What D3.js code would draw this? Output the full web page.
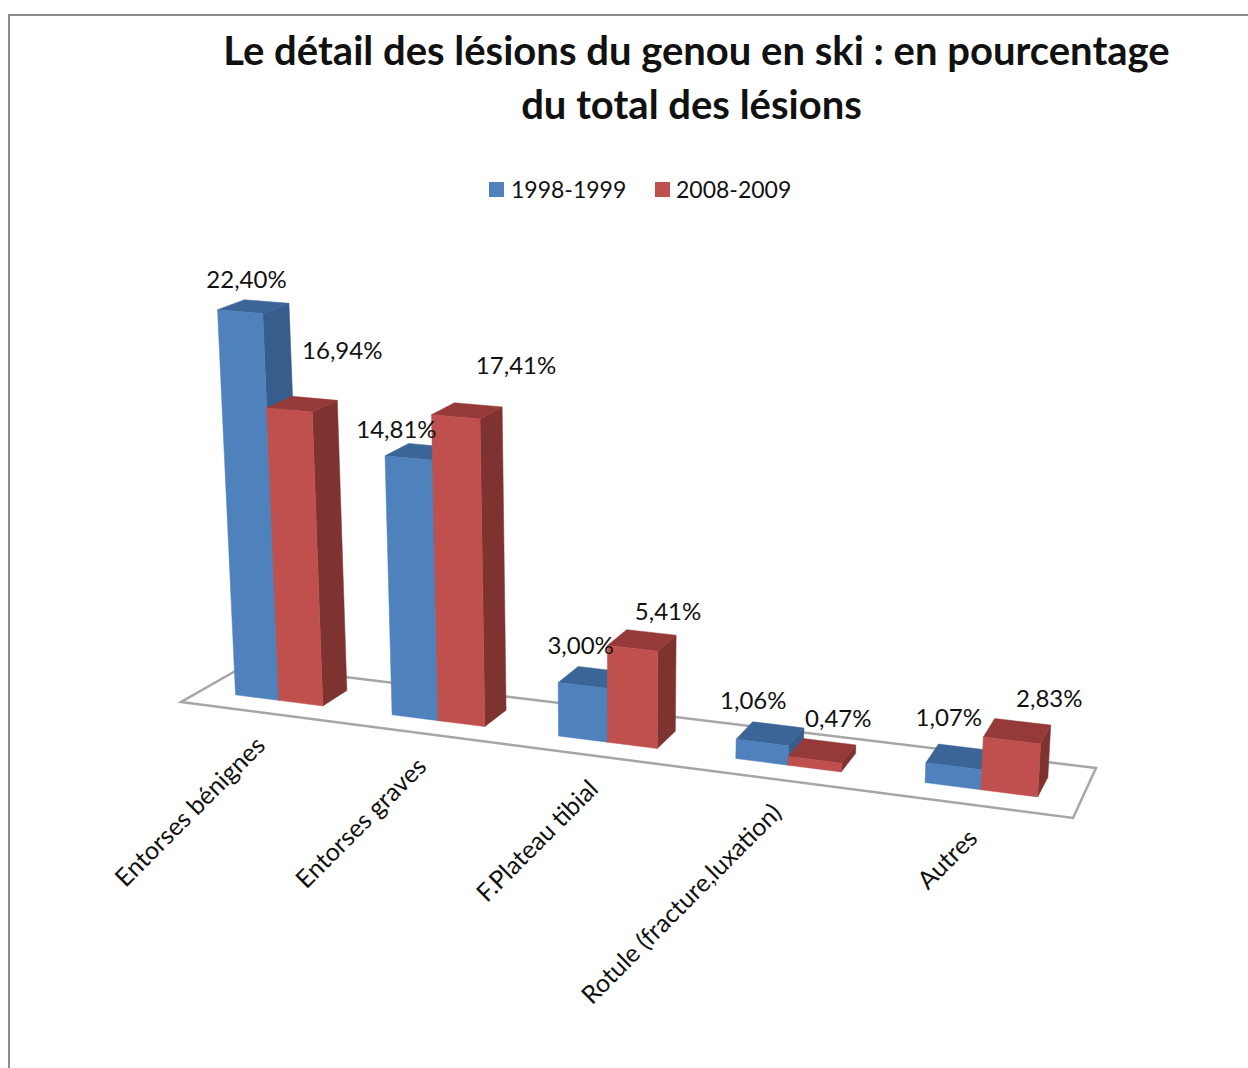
<!DOCTYPE html>
<html>
<head>
<meta charset="utf-8">
<script src="https://cdn.jsdelivr.net/npm/d3@7"></script>
<style>
    body { margin: 0; background: #fff; }
    text { font-family: Lato, "Open Sans", sans-serif; fill: #111; }
</style>
</head>
<body>
<div id="chart"></div>
<script>
// data
const categories = ["Entorses bénignes", "Entorses graves", "F.Plateau tibial", "Rotule (fracture,luxation)", "Autres"];
const seriesNames = ["1998-1999", "2008-2009"];
const values1998 = [22.40, 14.81, 3.00, 1.06, 1.07];
const values2008 = [16.94, 17.41, 5.41, 0.47, 2.83];
const titleLines = ["Le détail des lésions du genou en ski : en pourcentage", "du total des lésions"];

const width = 1248, height = 1068;

const colors = [
    {front: "#4f81bd", side: "#365d8c", top: "#3b6597"},
    {front: "#c0504d", side: "#7f3331", top: "#953a38"}
];

// label shifts from the centre of the bar top, excel places these oddly in 3d
const labelShift = [
    [[-7, -26], [-24, -22], [-12, -31], [-17, -33], [-11, -39]],
    [[40, -53], [49, -45], [26, -28], [16, -32], [32, -32]]
];

const svg = d3.select("#chart").append("svg")
    .attr("width", width)
    .attr("height", height);

// frame, runs off the right and bottom of the page
svg.append("rect")
    .attr("x", 9).attr("y", 15)
    .attr("width", 1400).attr("height", 1200)
    .attr("fill", "none")
    .attr("stroke", "#8c8c8c")
    .attr("stroke-width", 2);

// title, second line sits a bit left of the first in the original
svg.selectAll(".title").data(titleLines).enter().append("text")
    .attr("class", "title")
    .attr("x", (d, i) => i === 0 ? 696.5 : 691.5)
    .attr("y", (d, i) => 65 + i * 54)
    .attr("text-anchor", "middle")
    .attr("font-weight", 700)
    .attr("font-size", 40)
    .text(d => d);

// legend
const legend = svg.selectAll(".legend").data(seriesNames).enter().append("g")
    .attr("class", "legend")
    .attr("transform", (d, i) => "translate(" + (489 + i * 166) + ",182)");
legend.append("rect")
    .attr("width", 15).attr("height", 15)
    .attr("fill", (d, i) => colors[i].front);
legend.append("text")
    .attr("x", (d, i) => 22 - i)
    .attr("y", 16)
    .attr("font-size", 23)
    .text(d => d);

// floor projection: unit square (u along categories, v in depth) to the screen
const floorCorners = [[181, 702], [1073, 818], [1096, 768], [246, 665]];

function makeHomography(q) {
    const [[x0, y0], [x1, y1], [x2, y2], [x3, y3]] = q;
    const dx1 = x1 - x2, dy1 = y1 - y2, dx2 = x3 - x2, dy2 = y3 - y2;
    const sx = x0 - x1 + x2 - x3, sy = y0 - y1 + y2 - y3;
    const den = dx1 * dy2 - dx2 * dy1;
    const g = (sx * dy2 - dx2 * sy) / den;
    const h = (dx1 * sy - sx * dy1) / den;
    const a = x1 - x0 + g * x1, b = x3 - x0 + h * x3;
    const d = y1 - y0 + g * y1, e = y3 - y0 + h * y3;
    return (u, v) => {
        const w = g * u + h * v + 1;
        return [(a * u + b * v + x0) / w, (d * u + e * v + y0) / w];
    };
}
const floor = makeHomography(floorCorners);

// verticals converge on a point far under the chart
const vanish = [610, 8700];

// px per percent grows towards the viewer
const pxPerPct = d3.scaleLinear().domain([690, 800]).range([17.12, 18.75]);

const x0 = d3.scaleBand().domain(categories).range([0.002, 1.002]).paddingInner(0.435).paddingOuter(0.2175);
const x1 = d3.scaleBand().domain(seriesNames).range([0, x0.bandwidth()]);
const depth = d3.scaleLinear().domain([0, 1]).range([0.3, 0.7]);

function project(u, d, value) {
    const p = floor(u, depth(d));
    const lift = value * pxPerPct(p[1]);
    const slope = (p[0] - vanish[0]) / (vanish[1] - p[1]);
    return [p[0] + slope * lift, p[1] - lift];
}

// floor outline
svg.append("polygon")
    .attr("points", floorCorners.join(" "))
    .attr("fill", "#fff")
    .attr("stroke", "#a6a6a6")
    .attr("stroke-width", 2.5);

const series = [values1998, values2008];
const bars = [];
categories.forEach((c, i) => {
    seriesNames.forEach((s, j) => {
        const u0 = x0(c) + x1(s);
        bars.push({cat: i, ser: j, u0: u0, u1: u0 + x1.bandwidth(), value: series[j][i]});
    });
});

function pts(list) {
    return list.map(d => d.join(",")).join(" ");
}

const barG = svg.selectAll(".bar").data(bars).enter().append("g").attr("class", "bar");

// side
barG.append("polygon")
    .attr("fill", d => colors[d.ser].side)
    .attr("stroke", d => colors[d.ser].side)
    .attr("stroke-width", 0.5)
    .attr("points", d => pts([
        project(d.u1, 0, 0), project(d.u1, 1, 0), project(d.u1, 1, d.value), project(d.u1, 0, d.value)
    ]));
// top
barG.append("polygon")
    .attr("fill", d => colors[d.ser].top)
    .attr("stroke", d => colors[d.ser].top)
    .attr("stroke-width", 0.5)
    .attr("points", d => pts([
        project(d.u0, 0, d.value), project(d.u1, 0, d.value), project(d.u1, 1, d.value), project(d.u0, 1, d.value)
    ]));
// front
barG.append("polygon")
    .attr("fill", d => colors[d.ser].front)
    .attr("stroke", d => colors[d.ser].front)
    .attr("stroke-width", 0.5)
    .attr("points", d => pts([
        project(d.u0, 0, 0), project(d.u1, 0, 0), project(d.u1, 0, d.value), project(d.u0, 0, d.value)
    ]));

// data labels
const pctFormat = v => v.toFixed(2).replace(".", ",") + "%";
svg.selectAll(".value").data(bars).enter().append("text")
    .attr("class", "value")
    .attr("text-anchor", "middle")
    .attr("font-size", 24)
    .attr("dy", 8)
    .attr("transform", d => {
        const c = project((d.u0 + d.u1) / 2, 0.5, d.value);
        const s = labelShift[d.ser][d.cat];
        return "translate(" + (c[0] + s[0]) + "," + (c[1] + s[1]) + ")";
    })
    .text(d => pctFormat(d.value));

// category labels, rotated under the front edge
svg.selectAll(".cat").data(categories).enter().append("text")
    .attr("class", "cat")
    .attr("text-anchor", "end")
    .attr("font-size", 25)
    .attr("transform", d => {
        const p = floor(x0(d) + x0.bandwidth() / 2, 0);
        return "translate(" + (p[0] + 7) + "," + (p[1] + 35) + ") rotate(-45)";
    })
    .text(d => d);
</script>
</body>
</html>
